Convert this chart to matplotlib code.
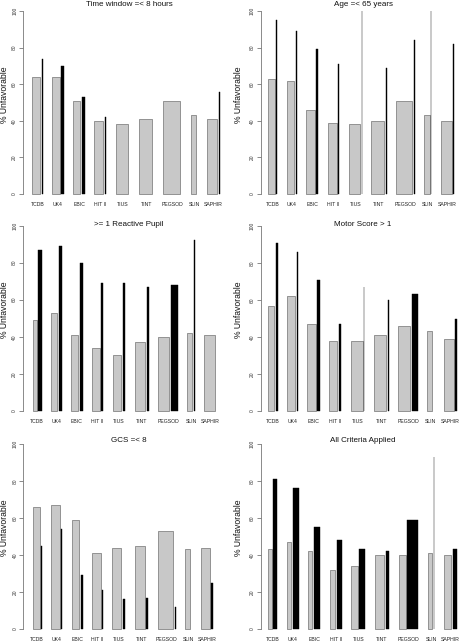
import numpy as np
import matplotlib
matplotlib.use('Agg')
import matplotlib.pyplot as plt

plt.rcParams['font.family'] = ['Liberation Sans', 'DejaVu Sans']

studies = ['TCDB', 'UK4', 'EBIC', 'HIT II', 'TIUS', 'TINT', 'PEGSOD', 'SLIN', 'SAPHIR']
titles = ['Time window =< 8 hours', 'Age =< 65 years', '>= 1 Reactive Pupil',
          'Motor Score > 1', 'GCS =< 8', 'All Criteria Applied']

# % unfavorable: grey = patients meeting the criterion, black = the rest
# bar widths follow the group sizes (nan = nobody in that group)
nan = np.nan
time_grey = [64, 64, 51, 40, 38, 41, 51, 43, 41]
time_black = [74, 70, 53, 42, nan, nan, nan, nan, 56]
time_wg = [7.7, 7.3, 7, 9, 11.7, 13, 16.7, 5, 10]
time_wb = [0.9, 2.7, 2.7, 1.3, 0, 0, 0, 0, 0.9]

age_grey = [63, 62, 46, 39, 38, 40, 51, 43, 40]
age_black = [95, 89, 79, 71, 100, 69, 84, 100, 82]
age_wg = [6.3, 7.3, 8.3, 9, 11.3, 12.7, 16, 5.3, 10.7]
age_wb = [0.9, 1.0, 2, 0.9, 0.05, 0.9, 0.9, 0.05, 0.4]

pupil_grey = [49, 53, 41, 34, 30, 37, 40, 42, 41]
pupil_black = [87, 89, 80, 69, 69, 67, 68, 92, nan]
pupil_wg = [4, 6.3, 7, 7.3, 8.7, 10.3, 11, 5, 10.7]
pupil_wb = [3.3, 2.7, 2.7, 2, 2.3, 2, 6.7, 0.9, 0]

motor_grey = [57, 62, 47, 38, 38, 41, 46, 43, 39]
motor_black = [91, 86, 71, 47, 67, 60, 63, nan, 50]
motor_wg = [5.7, 7.7, 8.3, 7.7, 11.7, 12.3, 12, 5, 10]
motor_wb = [2, 1.3, 2.3, 2.7, 0.05, 1.0, 6, 0, 2]

gcs_grey = [66, 67, 59, 41, 44, 45, 53, 43, 44]
gcs_black = [45, 54, 29, 21, 16, 17, 12, nan, 25]
gcs_wg = [7, 8.7, 7, 8.3, 8.7, 10, 15, 5, 8.3]
gcs_wb = [0.2, 1.0, 2.3, 0.2, 2.7, 2, 1, 0, 1.5]

all_grey = [43, 47, 42, 32, 34, 40, 40, 41, 40]
all_black = [81, 76, 55, 48, 43, 42, 59, 93, 43]
all_wg = [3.3, 4, 3.7, 5.3, 6.3, 9.3, 6.7, 4.7, 7.3]
all_wb = [4, 6.3, 6.7, 5, 5.7, 3.7, 11, 0.05, 4.7]

panels = [(time_grey, time_black, time_wg, time_wb),
          (age_grey, age_black, age_wg, age_wb),
          (pupil_grey, pupil_black, pupil_wg, pupil_wb),
          (motor_grey, motor_black, motor_wg, motor_wb),
          (gcs_grey, gcs_black, gcs_wg, gcs_wb),
          (all_grey, all_black, all_wg, all_wb)]

W, H = 463, 641
fig = plt.figure(figsize=(W/100, H/100), dpi=100)

# layout in pixels: y-axis x, first bar x, y of 0, y of 100, title y
layout = [(22.7, 32.4, 194, 11, 5),
          (260.5, 268.3, 194, 11, 5),
          (22.7, 32.6, 411, 225.5, 225),
          (260.5, 268.3, 411, 226, 225),
          (23.0, 32.6, 629, 444, 440),
          (260.5, 268.3, 629, 444, 440)]

gap_in, gap_grp = 1.7, 9.5

for i, (grey, black, wg, wb) in enumerate(panels):
    ax_x, bar_x, y0, y100, ty = layout[i]
    s = (y0 - y100) / 100.0

    # bar positions
    xs_g, xs_b, centers = [], [], []
    x = 0.0
    for k in range(len(studies)):
        xs_g.append(x)
        xb = x + wg[k] + gap_in
        xs_b.append(xb)
        centers.append((x + xb + wb[k]) / 2)
        x = xb + wb[k] + gap_grp
    total = x - gap_grp

    left = ax_x
    width = (bar_x - ax_x) + total + 4
    bottom = y0 + 4*s
    top = y100 - 4*s
    ax = fig.add_axes([left/W, 1 - bottom/H, width/W, (bottom - top)/H])
    ax.set_xlim(-(bar_x - ax_x), total + 4)
    ax.set_ylim(-4, 104)

    ax.bar(xs_g, grey, width=wg, align='edge', color='#C8C8C8',
           edgecolor='#858585', linewidth=0.6)
    bx = [xs_b[k] for k in range(len(studies)) if not np.isnan(black[k])]
    bh = [black[k] for k in range(len(studies)) if not np.isnan(black[k])]
    bw = [wb[k] for k in range(len(studies)) if not np.isnan(black[k])]
    ax.bar(bx, bh, width=bw, align='edge', color='black',
           edgecolor='black', linewidth=0.3)

    for c, name in zip(centers, studies):
        ax.text(c, -10.5/s, name, ha='center', va='center', fontsize=3.7,
                color='#222222', clip_on=False)

    for sp in ['top', 'right', 'bottom']:
        ax.spines[sp].set_visible(False)
    ax.spines['left'].set_bounds(0, 100)
    ax.spines['left'].set_color('#777777')
    ax.spines['left'].set_linewidth(0.6)
    ax.set_xticks([])
    ax.set_yticks([0, 20, 40, 60, 80, 100])
    ax.tick_params(axis='y', length=3, width=0.6, color='#777777',
                   labelsize=3.5, labelcolor='#333333', pad=1)
    plt.setp(ax.get_yticklabels(), rotation=90, va='center')

    fig.text((129 if i % 2 == 0 else 363)/W, 1 - ty/H, titles[i],
             ha='center', va='center', fontsize=5.8, color='#111111')
    ly = y0 - 54.5*s
    fig.text((4.5 if i % 2 == 0 else 238.5)/W, 1 - ly/H, '% Unfavorable',
             rotation=90, ha='center', va='center', fontsize=6.2,
             color='#111111')

fig.savefig('out.png', dpi=100)
